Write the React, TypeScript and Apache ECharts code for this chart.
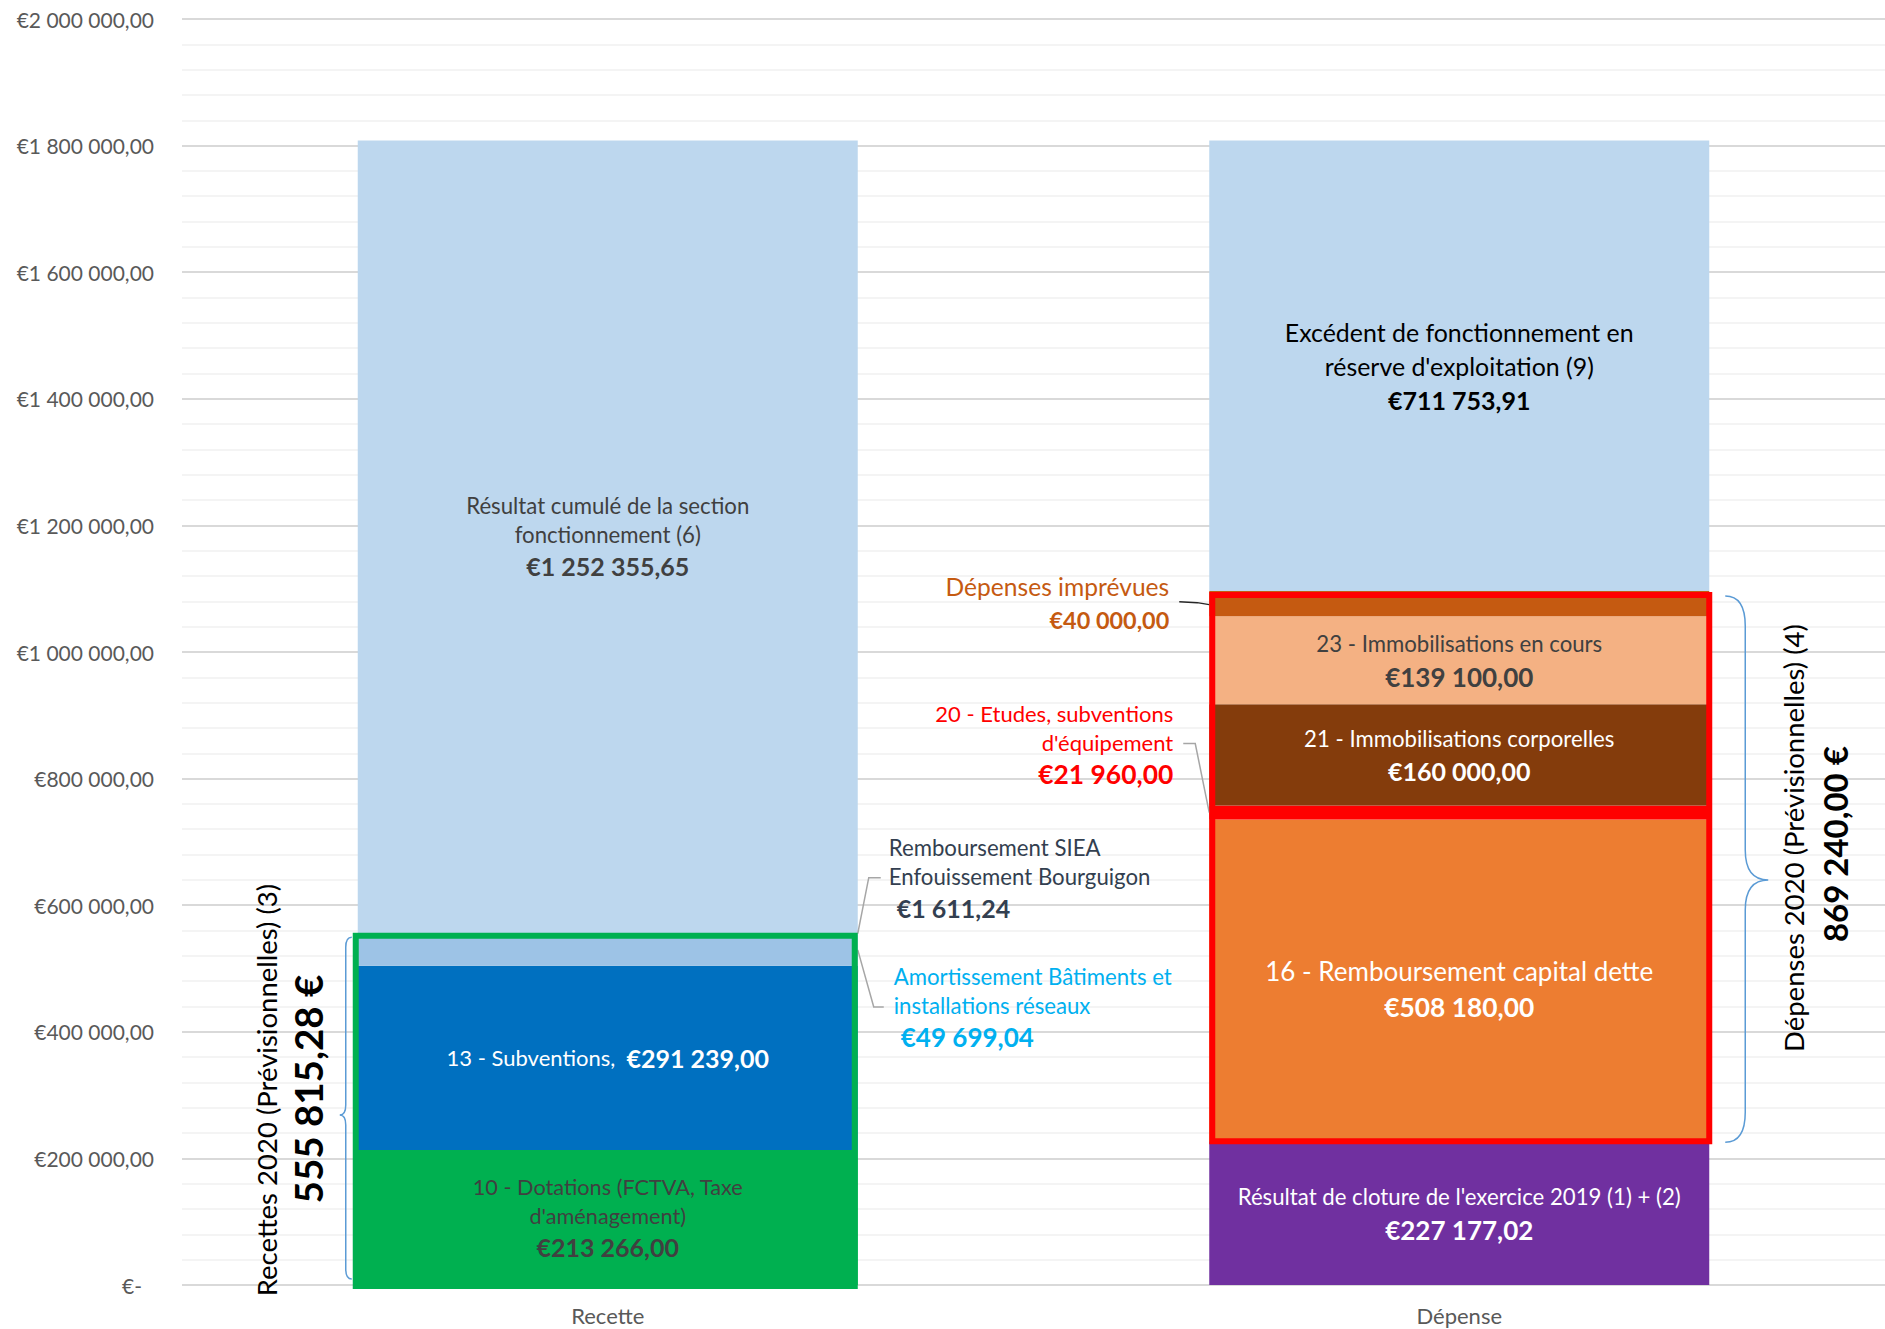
import React, { useEffect, useRef } from 'react';
import * as echarts from 'echarts';

// ---------------- DATA ----------------
const categories = ['Recette', 'Dépense'];

// Recette stack, bottom → top
const recetteNames = [
  "10 - Dotations (FCTVA, Taxe d'aménagement)",
  '13 - Subventions',
  'Amortissement Bâtiments et installations réseaux',
  'Remboursement SIEA Enfouissement Bourguigon',
  'Résultat cumulé de la section fonctionnement (6)',
];
const recetteValues = [213266.0, 291239.0, 49699.04, 1611.24, 1252355.65];
const recetteLabelLines = [
  ['10 - Dotations (FCTVA, Taxe', "d'aménagement)"],
  ['13 - Subventions,'],
  ['Amortissement Bâtiments et', 'installations réseaux'],
  ['Remboursement SIEA', 'Enfouissement Bourguigon'],
  ['Résultat cumulé de la section', 'fonctionnement (6)'],
];

// Dépense stack, bottom → top
const depenseNames = [
  "Résultat de cloture de l'exercice 2019 (1) + (2)",
  '16 - Remboursement capital dette',
  "20 - Etudes, subventions d'équipement",
  '21 - Immobilisations corporelles',
  '23 - Immobilisations en cours',
  'Dépenses imprévues',
  "Excédent de fonctionnement en réserve d'exploitation (9)",
];
const depenseValues = [227177.02, 508180.0, 21960.0, 160000.0, 139100.0, 40000.0, 711753.91];
const depenseLabelLines = [
  ["Résultat de cloture de l'exercice 2019 (1) + (2)"],
  ['16 - Remboursement capital dette'],
  ['20 - Etudes, subventions', "d'équipement"],
  ['21 - Immobilisations corporelles'],
  ['23 - Immobilisations en cours'],
  ['Dépenses imprévues'],
  ['Excédent de fonctionnement en', "réserve d'exploitation (9)"],
];

// 2020 provisional groups (indices into the stacks)
const recetteGroupIdx = [0, 1, 2, 3];
const depenseGroupIdx = [1, 2, 3, 4, 5];
const groupTitles = ['Recettes 2020 (Prévisionnelles) (3)', 'Dépenses 2020 (Prévisionnelles) (4)'];

const yMin = 0;
const yMax = 2000000;
const yInterval = 200000;

// ---------------- STYLES ----------------
const FONT = 'Lato, "Noto Sans", sans-serif';
const BAR_W = 500;

type SegStyle = {
  color: string;
  pos: 'inside' | 'left' | 'right';
  off?: [number, number];
  inline?: boolean;
  tc: string;
  tfs: number;
  tlh: number;
  vfs: number;
  vlh: number;
  vpad?: number;
};

const recetteStyles: SegStyle[] = [
  { color: '#00B050', pos: 'inside', tc: '#404040', tfs: 21.7, tlh: 29, vfs: 25, vlh: 33 },
  { color: '#0070C0', pos: 'inside', inline: true, tc: '#FFFFFF', tfs: 22, tlh: 30, vfs: 25, vlh: 30 },
  { color: '#9DC3E6', pos: 'right', off: [36, 58], tc: '#00B0F0', tfs: 22.2, tlh: 29, vfs: 26, vlh: 34, vpad: 7 },
  { color: '#9DC3E6', pos: 'right', off: [31, -55], tc: '#333F50', tfs: 22.2, tlh: 29, vfs: 25, vlh: 34, vpad: 8 },
  { color: '#BDD7EE', pos: 'inside', tc: '#404040', tfs: 22.2, tlh: 29, vfs: 25, vlh: 34 },
];
const depenseStyles: SegStyle[] = [
  { color: '#7030A0', pos: 'inside', tc: '#FFFFFF', tfs: 22.2, tlh: 33, vfs: 26, vlh: 33 },
  { color: '#ED7D31', pos: 'inside', off: [0, 9], tc: '#FFFFFF', tfs: 26, tlh: 36, vfs: 26.3, vlh: 36 },
  { color: '#FF0000', pos: 'left', off: [-36, -68], tc: '#FF0000', tfs: 22, tlh: 29, vfs: 26.4, vlh: 34 },
  { color: '#843C0C', pos: 'inside', tc: '#FFFFFF', tfs: 22.2, tlh: 33, vfs: 25, vlh: 33 },
  { color: '#F4B183', pos: 'inside', tc: '#404040', tfs: 22.2, tlh: 34, vfs: 26, vlh: 34 },
  { color: '#C55A11', pos: 'left', off: [-40, 0], tc: '#C55A11', tfs: 24.6, tlh: 33, vfs: 23.4, vlh: 34 },
  { color: '#BDD7EE', pos: 'inside', tc: '#000000', tfs: 24.9, tlh: 34, vfs: 25, vlh: 34 },
];

// ---------------- HELPERS ----------------
function fmtNum(v: number): string {
  const [i, d] = v.toFixed(2).split('.');
  return i.replace(/\B(?=(\d{3})+(?!\d))/g, ' ') + ',' + d;
}
const sum = (a: number[]) => a.reduce((s, x) => s + x, 0);
function centerOf(values: number[], idx: number) {
  return sum(values.slice(0, idx)) + values[idx] / 2;
}

function makeLabel(lines: string[], value: number, st: SegStyle) {
  const align = st.pos === 'inside' ? 'center' : st.pos === 'left' ? 'right' : 'left';
  const valueText = '€' + fmtNum(value);
  const formatter = st.inline
    ? `{t|${lines[0]}  }{v|${valueText}}`
    : lines.map((l) => `{t|${l}}`).join('\n') + `\n{v|${valueText}}`;
  return {
    show: true,
    position: st.pos,
    distance: 0,
    offset: st.off || [0, 0],
    formatter,
    rich: {
      t: { fontFamily: FONT, fontSize: st.tfs, lineHeight: st.tlh, color: st.tc, align },
      v: {
        fontFamily: FONT,
        fontSize: st.vfs,
        lineHeight: st.vlh,
        fontWeight: 'bold',
        color: st.tc,
        align,
        padding: st.vpad ? [0, 0, 0, st.vpad] : 0,
      },
    },
  };
}

// leader lines: anchored on the bar edge at the segment centre
const leaderSpecs = [
  { cat: 0, values: recetteValues, idx: 2, side: 1, pts: [[0, 0], [16, 57], [26, 57]], color: '#A6A6A6' },
  { cat: 0, values: recetteValues, idx: 3, side: 1, pts: [[0, 0], [11, -56], [23, -56]], color: '#A6A6A6' },
  { cat: 1, values: depenseValues, idx: 2, side: -1, pts: [[0, 0], [-14, -69], [-26, -69]], color: '#A6A6A6' },
  { cat: 1, values: depenseValues, idx: 5, side: -1, pts: [[0, 1], [-12, -1], [-30, -2]], color: '#262626' },
];

const recLow = sum(recetteValues.slice(0, recetteGroupIdx[0]));
const recHigh = recLow + sum(recetteGroupIdx.map((i) => recetteValues[i]));
const depLow = sum(depenseValues.slice(0, depenseGroupIdx[0]));
const depHigh = depLow + sum(depenseGroupIdx.map((i) => depenseValues[i]));

const groupSpecs = [
  {
    color: '#00B050',
    inset: [-2, 3, 2.5, -1],
    braceSide: -1,
    brace: { x0: -6, dx1: -6, dx2: -12, t: 4, b: 6, m: 6, r: 10 },
    title: { dx: -91, dy: -19, fs: 27.5 },
    total: { dx: -50, dy: -20, fs: 38.5 },
  },
  {
    color: '#FF0000',
    inset: [3, 0, 4, 0],
    braceSide: 1,
    brace: { x0: 16, dx1: 20, dx2: 43, t: 5, b: -1, m: 14, r: 30 },
    title: { dx: 84, dy: -28, fs: 27.5 },
    total: { dx: 126, dy: -22, fs: 33 },
  },
];

function bracePath(x0: number, y0: number, y1: number, ym: number, dx1: number, dx2: number, r: number) {
  const xv = x0 + dx1;
  return [
    `M${x0},${y0}`,
    `Q${xv},${y0} ${xv},${y0 + r}`,
    `L${xv},${ym - r}`,
    `Q${xv},${ym} ${x0 + dx2},${ym}`,
    `Q${xv},${ym} ${xv},${ym + r}`,
    `L${xv},${y1 - r}`,
    `Q${xv},${y1} ${x0},${y1}`,
  ].join(' ');
}

function buildOption() {
  const series: any[] = [];
  recetteValues.forEach((v, i) => {
    series.push({
      type: 'bar',
      name: recetteNames[i],
      stack: 'total',
      barWidth: BAR_W,
      silent: true,
      z: 2,
      data: [v, '-'],
      itemStyle: { color: recetteStyles[i].color },
      label: makeLabel(recetteLabelLines[i], v, recetteStyles[i]),
    });
  });
  depenseValues.forEach((v, i) => {
    series.push({
      type: 'bar',
      name: depenseNames[i],
      stack: 'total',
      barWidth: BAR_W,
      silent: true,
      z: 2,
      data: ['-', v],
      itemStyle: { color: depenseStyles[i].color },
      label: makeLabel(depenseLabelLines[i], v, depenseStyles[i]),
    });
  });

  // leader lines
  series.push({
    type: 'custom',
    name: 'leaders',
    silent: true,
    z: 5,
    encode: { x: 0, y: 1 },
    data: leaderSpecs.map((s) => [s.cat, centerOf(s.values, s.idx)]),
    renderItem: (params: any, api: any) => {
      const s = leaderSpecs[params.dataIndex];
      const p = api.coord([api.value(0), api.value(1)]);
      const ax = p[0] + (s.side * BAR_W) / 2;
      return {
        type: 'polyline',
        shape: { points: s.pts.map(([dx, dy]) => [ax + dx, p[1] + dy]) },
        style: { stroke: s.color, lineWidth: 1.5, fill: 'none' },
      };
    },
  });

  // group outlines, braces and totals
  const totals = [recHigh - recLow, depHigh - depLow];
  series.push({
    type: 'custom',
    name: 'groups',
    silent: true,
    z: 10,
    encode: { x: 0, y: [1, 2] },
    data: [
      [0, recLow, recHigh],
      [1, depLow, depHigh],
    ],
    renderItem: (params: any, api: any) => {
      const g = groupSpecs[params.dataIndex];
      const cat = api.value(0);
      const pl = api.coord([cat, api.value(1)]);
      const ph = api.coord([cat, api.value(2)]);
      const xl = pl[0] - BAR_W / 2;
      const xr = pl[0] + BAR_W / 2;
      const yb = pl[1];
      const yt = ph[1];
      const ym = (yb + yt) / 2;
      const edge = g.braceSide < 0 ? xl : xr;
      const b = g.brace;
      return {
        type: 'group',
        children: [
          {
            type: 'rect',
            z2: 100,
            shape: {
              x: xl + g.inset[0],
              y: yt + g.inset[2],
              width: xr - g.inset[1] - (xl + g.inset[0]),
              height: yb - g.inset[3] - (yt + g.inset[2]),
            },
            style: { fill: 'none', stroke: g.color, lineWidth: 6 },
          },
          {
            type: 'path',
            shape: { pathData: bracePath(edge + b.x0, yt + b.t, yb - b.b, ym + b.m, b.dx1, b.dx2, b.r) },
            style: { fill: 'none', stroke: '#5B9BD5', lineWidth: 1.5 },
          },
          {
            type: 'text',
            x: edge + g.title.dx,
            y: ym + g.title.dy,
            rotation: Math.PI / 2,
            style: {
              text: groupTitles[params.dataIndex],
              fill: '#000000',
              fontFamily: FONT,
              fontSize: g.title.fs,
              align: 'center',
              verticalAlign: 'middle',
            },
          },
          {
            type: 'text',
            x: edge + g.total.dx,
            y: ym + g.total.dy,
            rotation: Math.PI / 2,
            style: {
              text: fmtNum(totals[params.dataIndex]) + ' €',
              fill: '#000000',
              fontFamily: FONT,
              fontSize: g.total.fs,
              fontWeight: 'bold',
              align: 'center',
              verticalAlign: 'middle',
            },
          },
        ],
      };
    },
  });

  return {
    animation: false,
    backgroundColor: '#FFFFFF',
    grid: { left: 182, right: 0, top: 19, bottom: 44 },
    xAxis: {
      type: 'category',
      data: categories,
      axisLine: { show: false },
      axisTick: { show: false },
      axisLabel: { color: '#595959', fontSize: 22, fontFamily: FONT, margin: 19 },
    },
    yAxis: {
      type: 'value',
      min: yMin,
      max: yMax,
      interval: yInterval,
      axisLine: { show: false },
      axisTick: { show: false },
      splitLine: { lineStyle: { color: '#D9D9D9', width: 2 } },
      minorTick: { show: false, splitNumber: 5 },
      minorSplitLine: { show: true, lineStyle: { color: '#F0F0F0', width: 1.5 } },
      axisLabel: {
        color: '#595959',
        fontSize: 21,
        fontFamily: FONT,
        margin: 28,
        formatter: (v: number) => (v === 0 ? '{z|€-}' : '€' + fmtNum(v)),
        rich: { z: { color: '#595959', fontSize: 21, fontFamily: FONT, padding: [0, 12, 0, 0] } },
      },
    },
    series,
  };
}

export default function App() {
  const ref = useRef<HTMLDivElement>(null);
  useEffect(() => {
    if (!ref.current) return;
    const chart = echarts.init(ref.current, null, { renderer: 'svg' });
    chart.setOption(buildOption() as any);
    return () => chart.dispose();
  }, []);
  return (
    <div
      ref={ref}
      style={{ position: 'absolute', left: 0, top: 0, width: 1885, height: 1329, background: '#FFFFFF' }}
    />
  );
}
